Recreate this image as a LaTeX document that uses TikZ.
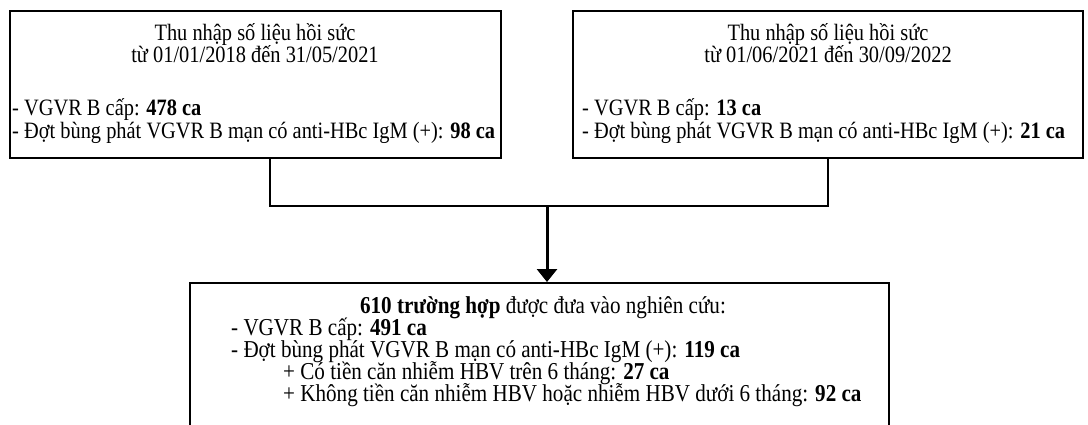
\documentclass[tikz,border=0pt]{standalone}
\usepackage{fontspec}
\setmainfont{Liberation Serif}
\usetikzlibrary{arrows.meta,calc}
\newcommand{\tall}[1]{\scalebox{1}[1.15]{#1}}
\begin{document}
\begin{tikzpicture}[x=1pt,y=1pt,
  box/.style={draw,line width=2pt,inner sep=0pt,anchor=north west},
  txt/.style={inner sep=0pt,font=\fontsize{20.4}{22}\selectfont},
  btxt/.style={inner sep=0pt,font=\fontsize{21.1}{22}\selectfont},
  lt/.style={txt,anchor=base west},
  ct/.style={txt,anchor=base},
  blt/.style={btxt,anchor=base west},
  bct/.style={btxt,anchor=base},
  conn/.style={line width=2pt},
  arr/.style={line width=3pt,-{Triangle[width=20pt,length=13pt]}}]
\useasboundingbox (0,0) rectangle (1088,-424);
\clip (0,0) rectangle (1088,-424);
\node[box,minimum width=491pt,minimum height=147pt] (b1) at (9,-10) {};
\node[box,minimum width=510pt,minimum height=147pt] (b2) at (572,-10) {};
\node[box,minimum width=699pt,minimum height=160pt] (b3) at (189,-282) {};
% box 1 text
\node[ct] (t11) at (255,-40) {\tall{Thu nhập số liệu hồi sức}};
\node[ct] (t12) at (255,-62) {\tall{từ 01/01/2018 đến 31/05/2021}};
\node[lt] (t13) at (12,-115) {\tall{- VGVR B cấp: \textbf{478 ca}}};
\node[lt] (t14) at (12,-138) {\tall{- Đợt bùng phát VGVR B mạn có anti-HBc IgM (+): \textbf{98 ca}}};
% box 2 text
\node[ct] (t21) at (828,-40) {\tall{Thu nhập số liệu hồi sức}};
\node[ct] (t22) at (828,-62) {\tall{từ 01/06/2021 đến 30/09/2022}};
\node[lt] (t23) at (582,-115) {\tall{- VGVR B cấp: \textbf{13 ca}}};
\node[lt] (t24) at (582,-138) {\tall{- Đợt bùng phát VGVR B mạn có anti-HBc IgM (+): \textbf{21 ca}}};
% box 3 text
\node[bct] (t31) at (543,-313) {\tall{\textbf{610 trường hợp} được đưa vào nghiên cứu:}};
\node[blt] (t32) at (231,-335) {\tall{- VGVR B cấp: \textbf{491 ca}}};
\node[blt] (t33) at (231,-357) {\tall{- Đợt bùng phát VGVR B mạn có anti-HBc IgM (+): \textbf{119 ca}}};
\node[blt] (t34) at (283,-379) {\tall{+ Có tiền căn nhiễm HBV trên 6 tháng: \textbf{27 ca}}};
\node[blt] (t35) at (283,-401) {\tall{+ Không tiền căn nhiễm HBV hoặc nhiễm HBV dưới 6 tháng: \textbf{92 ca}}};
% connectors
\coordinate (j1) at (270,-206);
\coordinate (j2) at (828,-206);
\coordinate (j) at (547,-206);
\draw[conn] (b1.south -| j1) -- (j1) -- (j2) -- (b2.south -| j2);
\draw[arr] (j) -- (b3.north -| j);
\end{tikzpicture}
\end{document}
